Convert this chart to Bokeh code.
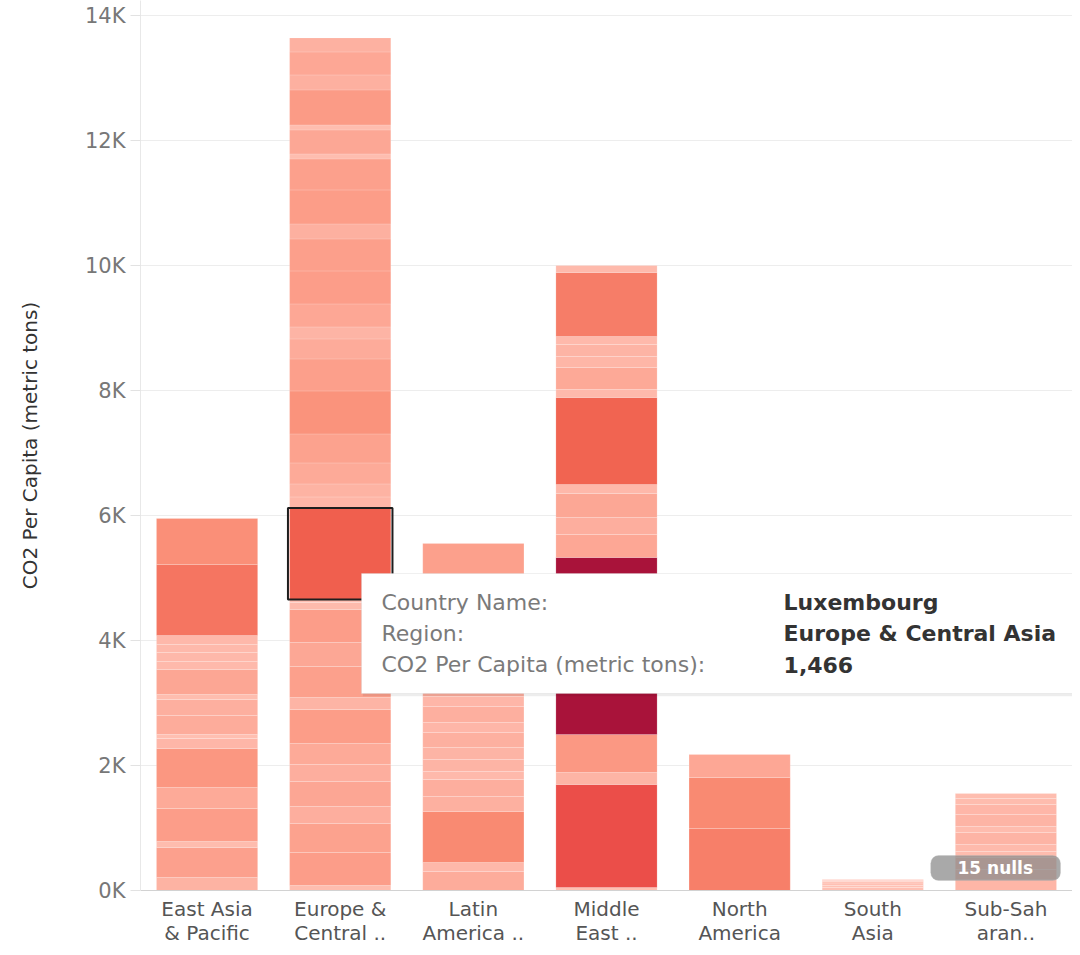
import numpy as np
from bokeh.plotting import figure
from bokeh.models import (FactorRange, Range1d, FixedTicker, ColumnDataSource,
                          BoxAnnotation, Label)
from bokeh.transform import linear_cmap
from bokeh.embed import file_html
from bokeh.resources import INLINE

# ---------------- data ----------------
regions = ["East Asia & Pacific", "Europe & Central Asia", "Latin America & Caribbean",
           "Middle East & North Africa", "North America", "South Asia", "Sub-Saharan Africa"]
region_labels = ["East Asia\n& Pacific", "Europe &\nCentral ..", "Latin\nAmerica ..",
                 "Middle\nEast ..", "North\nAmerica", "South\nAsia", "Sub-Sah\naran.."]

# country values per region, stacked bottom -> top
east_asia = [208, 480, 96, 528, 336, 624, 160, 64, 304, 256, 80, 400, 128, 144, 128, 144, 1136, 736]
europe = [80, 528, 464, 272, 400, 272, 336, 544, 192, 496, 384, 528, 112, 48, 1466, 176, 208,
          336, 464, 688, 512, 320, 192, 368, 528, 512, 240, 544, 496, 80, 384, 80, 560, 240, 368, 224]
latin_america = [304, 144, 816, 240, 272, 128, 192, 192, 240, 160, 256, 160, 272, 400, 240,
                 320, 320, 240, 160, 496]
middle_east = [48, 1648, 192, 608, 2832, 368, 272, 384, 144, 1392, 128, 352, 176, 192, 128, 1024, 112]
north_america = [992, 816, 368]
south_asia = [48, 32, 40, 24, 16, 16]
sub_saharan = [176, 160, 192, 96, 112, 192, 96, 192, 160, 96, 80]
region_values = [east_asia, europe, latin_america, middle_east, north_america, south_asia, sub_saharan]

y_ticks = [0, 2000, 4000, 6000, 8000, 10000, 12000, 14000]
y_tick_labels = ["0K", "2K", "4K", "6K", "8K", "10K", "12K", "14K"]

hl_country = "Luxembourg"
hl_region = "Europe & Central Asia"
hl_value = 1466
null_count = 15

# ---------------- styles ----------------
FONT = "DejaVu Sans"
anchor_vals = [0, 250, 500, 800, 1050, 1450, 1650, 2850]
anchor_cols = ["#ffc3b6", "#fdaf9f", "#fc9f8b", "#f98b73", "#f67b66", "#f0604e", "#eb4e49", "#a8123a"]


def hex2rgb(h):
    return [int(h[i:i + 2], 16) for i in (1, 3, 5)]


grid_vals = np.linspace(0, anchor_vals[-1], 256)
rgb = np.array([hex2rgb(c) for c in anchor_cols])
palette = []
for v in grid_vals:
    r, g, b = (int(round(np.interp(v, anchor_vals, rgb[:, k]))) for k in range(3))
    palette.append("#%02x%02x%02x" % (r, g, b))

label_of = dict(zip(regions, region_labels))

# stacking
xs, bottoms, tops, vals = [], [], [], []
hl = None
for reg, values in zip(regions, region_values):
    acc = 0
    for v in values:
        xs.append(label_of[reg])
        bottoms.append(acc)
        tops.append(acc + v)
        vals.append(v)
        if reg == hl_region and v == hl_value:
            hl = (label_of[reg], acc, acc + v)
        acc += v

src = ColumnDataSource(dict(region=xs, bottom=bottoms, top=tops, value=vals))

p = figure(x_range=FactorRange(factors=region_labels, range_padding=0),
           y_range=Range1d(0, 14240),
           width=1072, height=947, output_backend="svg", toolbar_location=None,
           min_border_left=140, min_border_right=0, min_border_top=0, min_border_bottom=55)
p.outline_line_color = None
p.background_fill_color = "white"
p.border_fill_color = "white"

p.vbar(x="region", bottom="bottom", top="top", width=0.76, source=src,
       fill_color=linear_cmap("value", palette, 0, anchor_vals[-1]),
       line_color="white", line_alpha=0.16, line_width=1)

# highlighted mark
hl_src = ColumnDataSource(dict(region=[hl[0]], bottom=[hl[1]], top=[hl[2]]))
p.vbar(x="region", bottom="bottom", top="top", width=0.785, source=hl_src,
       fill_color=None, line_color="#1e1e1e", line_width=2)

# axes
p.xgrid.grid_line_color = None
p.ygrid.grid_line_color = "#ededed"
p.ygrid.grid_line_width = 1

p.yaxis.ticker = FixedTicker(ticks=y_ticks)
p.yaxis.major_label_overrides = {t: l for t, l in zip(y_ticks, y_tick_labels)}
p.yaxis.axis_label = "CO2 Per Capita (metric tons)"
p.yaxis.axis_label_text_font = FONT
p.yaxis.axis_label_text_font_size = "20px"
p.yaxis.axis_label_text_font_style = "normal"
p.yaxis.axis_label_text_color = "#333333"
p.yaxis.axis_label_standoff = 40
p.yaxis.major_label_text_font = FONT
p.yaxis.major_label_text_font_size = "21px"
p.yaxis.major_label_text_color = "#777777"
p.yaxis.major_label_standoff = 5
p.yaxis.major_tick_out = 10
p.yaxis.major_tick_in = 0
p.yaxis.major_tick_line_color = "#e2e2e2"
p.yaxis.minor_tick_line_color = None
p.yaxis.axis_line_color = "#e8e8e8"

p.xaxis.major_label_text_font = FONT
p.xaxis.major_label_text_font_size = "20px"
p.xaxis.major_label_text_line_height = 1.0
p.xaxis.major_label_text_color = "#555555"
p.xaxis.major_label_standoff = 0
p.xaxis.major_tick_line_color = None
p.xaxis.minor_tick_line_color = None
p.xaxis.axis_line_color = "#d2d2d2"

# tooltip
p.add_layout(BoxAnnotation(left=1.67, right=7.6, bottom=3110, top=5040,
                           fill_color="#000000", fill_alpha=0.07, line_color=None))
p.add_layout(BoxAnnotation(left=1.66, right=7.6, bottom=3152, top=5072,
                           fill_color="white", fill_alpha=1.0,
                           line_color="#cccccc", line_width=1))
keys = ["Country Name:", "Region:", "CO2 Per Capita (metric tons):"]
vals_txt = [hl_country, hl_region, f"{hl_value:,}"]
for i, (k, v) in enumerate(zip(keys, vals_txt)):
    yy = 4608 - i * 496
    p.add_layout(Label(x=1.81, y=yy, text=k, text_font=FONT, text_font_size="22px",
                       text_color="#7a7a7a", text_baseline="middle", text_align="left"))
    p.add_layout(Label(x=4.83, y=yy, text=v, text_font=FONT, text_font_size="22px",
                       text_font_style="bold", text_color="#333333",
                       text_baseline="middle", text_align="left"))

# nulls badge
p.add_layout(BoxAnnotation(left=5.935, right=6.91, bottom=160, top=560, border_radius=8,
                           fill_color="#8c8c8c", fill_alpha=0.75,
                           line_color="#c0c0c0", line_width=1))
p.add_layout(Label(x=6.42, y=368, text=f"{null_count} nulls", text_font=FONT,
                   text_font_size="17px", text_font_style="bold", text_color="white",
                   text_align="center", text_baseline="middle"))

open("out.html", "w").write(file_html(p, INLINE))
